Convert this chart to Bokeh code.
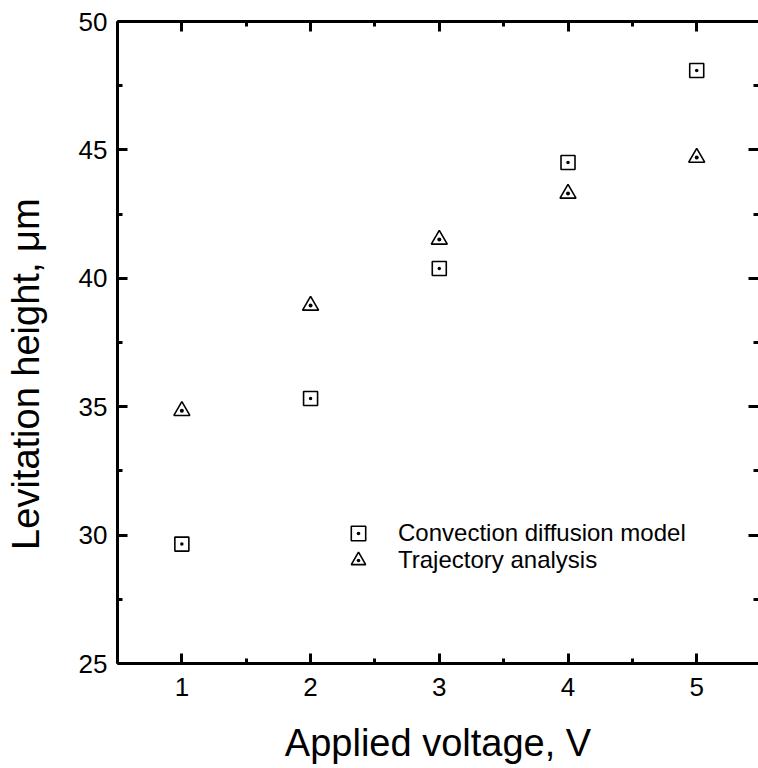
from bokeh.plotting import figure
from bokeh.models import LinearAxis, FixedTicker, Range1d, Legend, LegendItem
from bokeh.embed import file_html
from bokeh.resources import INLINE

voltage = [1, 2, 3, 4, 5]
convection_diffusion = [29.65, 35.32, 40.38, 44.51, 48.09]
trajectory = [34.84, 38.94, 41.51, 43.30, 44.70]

x_ticks = [1, 2, 3, 4, 5]
x_minor = [0.5, 1.5, 2.5, 3.5, 4.5, 5.5]
y_ticks = [25, 30, 35, 40, 45, 50]
y_minor = [27.5, 32.5, 37.5, 42.5, 47.5]

FONT = "Liberation Sans"
NBSP = "\u00a0"

p = figure(width=758, height=768, output_backend="svg", toolbar_location=None,
           x_range=Range1d(0.5, 5.48), y_range=Range1d(25, 50),
           x_axis_location=None, y_axis_location=None,
           min_border_left=117, min_border_right=0, min_border_top=21, min_border_bottom=105)
p.outline_line_color = None
p.xgrid.visible = False
p.ygrid.visible = False
p.background_fill_color = "white"
p.border_fill_color = "white"

xt = FixedTicker(ticks=x_ticks, minor_ticks=x_minor)
yt = FixedTicker(ticks=y_ticks, minor_ticks=y_minor)


def style(ax, labels=True, ticks=None):
    ax.axis_line_width = 3
    ax.axis_line_color = "black"
    ax.major_tick_line_width = 3
    ax.minor_tick_line_width = 3
    ax.major_tick_in = 10
    ax.major_tick_out = 0
    ax.minor_tick_in = 5
    ax.minor_tick_out = 0
    ax.major_label_text_font = FONT
    ax.major_label_text_color = "black"
    ax.axis_label_text_font = FONT
    ax.axis_label_text_font_style = "normal"
    ax.axis_label_text_color = "black"
    if not labels:
        ax.major_label_overrides = {t: "" for t in ticks}
        ax.major_label_standoff = 0


bottom = LinearAxis(ticker=xt, axis_label="Applied voltage, V")
style(bottom)
bottom.major_label_text_font_size = "26px"
bottom.major_label_standoff = 14
bottom.axis_label_text_font_size = "38px"
bottom.axis_label_standoff = 23
p.add_layout(bottom, "below")

left = LinearAxis(ticker=yt, axis_label="Levitation height, \u03bcm" + NBSP * 6)
style(left)
left.major_label_text_font_size = "26px"
left.major_label_standoff = 10
left.axis_label_text_font_size = "38px"
left.axis_label_standoff = 29
p.add_layout(left, "left")

top = LinearAxis(ticker=xt)
style(top, labels=False, ticks=x_ticks)
p.add_layout(top, "above")

right = LinearAxis(ticker=yt)
style(right, labels=False, ticks=y_ticks)
right.axis_line_color = None
p.add_layout(right, "right")

r1 = p.scatter(voltage, convection_diffusion, marker="square_dot", size=14,
               fill_color=None, line_color="black", line_width=1.6)
r2 = p.scatter(voltage, trajectory, marker="triangle_dot", size=16,
               fill_color=None, line_color="black", line_width=1.6)


def make_legend(label, renderer, loc):
    lg = Legend(items=[LegendItem(label=label, renderers=[renderer])],
                location=loc, padding=0, margin=0, spacing=0,
                glyph_width=36, glyph_height=36, label_standoff=22,
                label_text_font=FONT, label_text_font_size="24px",
                label_text_color="black",
                border_line_color=None, background_fill_alpha=0)
    p.add_layout(lg, "center")


make_legend("Convection diffusion model", r1, (223, 112))
make_legend("Trajectory analysis", r2, (223, 85))

open("out.html", "w").write(file_html(p, INLINE))
